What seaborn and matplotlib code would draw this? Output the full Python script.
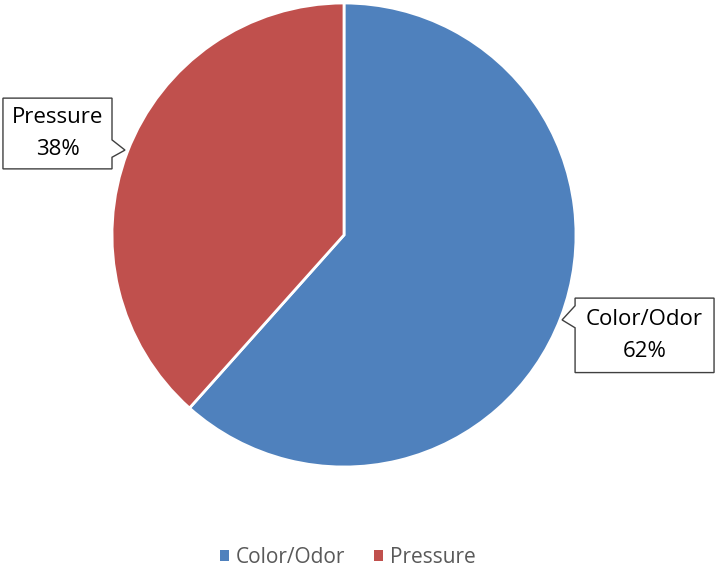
import matplotlib
matplotlib.use("Agg")
import matplotlib.pyplot as plt
import seaborn as sns
from matplotlib.patches import Polygon, Patch

# data
categories = ['Color/Odor', 'Pressure']
shares = [61.6, 38.4]
colors = ['#4F81BD', '#C0504D']

sns.set_theme(style="white")
plt.rcParams['font.family'] = ['Open Sans', 'DejaVu Sans']

fig = plt.figure(figsize=(7.15, 5.69), dpi=100)
ax = fig.add_axes([0, 0, 1, 1])

ax.pie(shares, colors=colors, startangle=90, counterclock=False,
       radius=1.0, wedgeprops=dict(edgecolor='white', linewidth=2))

# pixel -> data mapping (center 344,235; radius 232 px)
ax.set_xlim((0 - 344) / 232, (715 - 344) / 232)
ax.set_ylim((235 - 569) / 232, 235 / 232)
ax.set_aspect('auto')
ax.axis('off')

def label(i):
    return f"{categories[i]}\n{round(shares[i])}%"

# Pressure label, notch on right side
x0, x1, y0, y1 = -1.47, -1.0, 0.285, 0.59
ax.add_patch(Polygon([(x0, y1), (x1, y1), (x1, 0.41), (-0.944, 0.366), (x1, 0.335),
                      (x1, y0), (x0, y0)],
                     closed=True, facecolor='white', edgecolor='#404040', linewidth=1, zorder=5))
ax.text((x0 + x1) / 2, (y0 + y1) / 2, label(1), ha='center', va='center',
        fontsize=16, color='black', zorder=6, linespacing=1.65)

# Color/Odor label, notch on left side
x0, x1, y0, y1 = 0.996, 1.595, -0.593, -0.272
ax.add_patch(Polygon([(x0, y1), (x1, y1), (x1, y0), (x0, y0),
                      (x0, -0.40), (0.94, -0.366), (x0, -0.305)],
                     closed=True, facecolor='white', edgecolor='#404040', linewidth=1, zorder=5))
ax.text((x0 + x1) / 2, (y0 + y1) / 2, label(0), ha='center', va='center',
        fontsize=16, color='black', zorder=6, linespacing=1.65)

handles = [Patch(facecolor=c, edgecolor='none') for c in colors]
fig.legend(handles, categories, loc='center', bbox_to_anchor=(0.486, 0.021),
           ncol=2, frameon=False, fontsize=15, labelcolor='#595959',
           handlelength=0.45, handleheight=0.45, handletextpad=0.3, columnspacing=1.4)

fig.savefig('out.png', dpi=100)
